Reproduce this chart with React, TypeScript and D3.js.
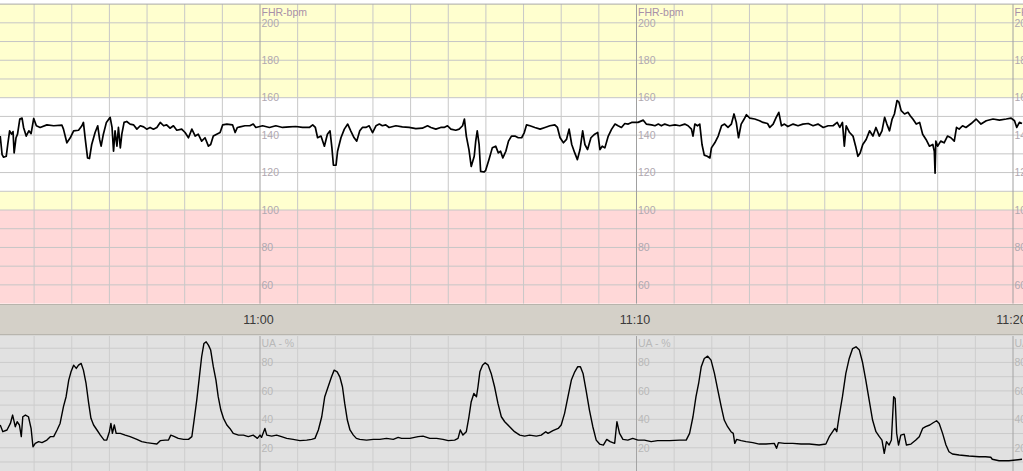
import React from "react";
import * as d3 from "d3";

// Time of each reading in minutes relative to 11:00
const fhrSamples: [number, number][] = [
  [-6.90,139.5],[-6.85,129.6],[-6.81,128.2],[-6.74,128.7],[-6.70,135.0],[-6.65,142.3],[-6.60,140.5],[-6.56,141.9],
  [-6.53,130.5],[-6.48,138.6],[-6.44,140.5],[-6.38,148.6],[-6.32,149.1],[-6.28,144.1],[-6.21,139.5],[-6.14,142.3],
  [-6.08,140.8],[-6.01,148.9],[-5.94,145.0],[-5.84,144.1],[-5.66,145.5],[-5.48,145.0],[-5.26,145.3],[-5.22,143.2],
  [-5.13,135.9],[-5.04,138.6],[-4.95,142.3],[-4.82,142.6],[-4.73,145.0],[-4.69,146.8],[-4.64,137.7],[-4.58,127.8],
  [-4.53,127.5],[-4.47,135.0],[-4.38,141.4],[-4.31,145.0],[-4.26,137.7],[-4.22,134.1],[-4.16,140.5],[-4.08,146.8],
  [-3.98,149.5],[-3.93,144.1],[-3.89,131.4],[-3.85,142.3],[-3.80,134.1],[-3.76,144.1],[-3.71,133.2],[-3.67,140.5],
  [-3.61,146.8],[-3.54,147.3],[-3.45,145.9],[-3.36,145.5],[-3.27,143.2],[-3.18,145.0],[-3.09,144.4],[-3.01,143.2],
  [-2.92,144.1],[-2.83,143.2],[-2.74,144.1],[-2.65,146.8],[-2.56,145.0],[-2.48,145.5],[-2.39,143.7],[-2.30,145.0],
  [-2.21,142.6],[-2.08,143.2],[-1.99,141.4],[-1.90,138.6],[-1.81,143.2],[-1.72,139.5],[-1.64,140.5],[-1.55,136.8],
  [-1.46,138.6],[-1.37,134.1],[-1.31,135.0],[-1.24,139.5],[-1.15,140.5],[-1.06,141.4],[-0.99,145.5],[-0.88,145.9],
  [-0.73,145.5],[-0.66,141.4],[-0.60,144.1],[-0.53,144.4],[-0.40,145.0],[-0.27,145.0],[-0.18,145.9],[-0.11,144.1],
  [0.07,145.0],[0.25,144.1],[0.42,145.0],[0.60,144.1],[0.78,144.4],[0.95,144.6],[1.13,144.1],[1.31,144.1],
  [1.40,145.5],[1.47,144.1],[1.53,138.6],[1.62,139.5],[1.71,134.1],[1.79,140.5],[1.86,142.3],[1.91,133.2],
  [1.95,123.9],[2.02,123.9],[2.06,131.4],[2.15,138.6],[2.24,143.2],[2.33,145.9],[2.41,142.3],[2.50,138.6],
  [2.57,136.8],[2.65,142.3],[2.72,144.1],[2.81,144.1],[2.90,145.0],[2.99,141.4],[3.08,145.0],[3.17,145.9],
  [3.25,145.0],[3.34,145.5],[3.43,144.1],[3.61,145.0],[3.78,144.4],[3.96,144.1],[4.14,143.5],[4.31,143.7],
  [4.45,145.0],[4.54,144.1],[4.67,143.2],[4.80,144.1],[4.89,144.1],[4.98,145.0],[5.07,143.2],[5.20,142.6],
  [5.29,143.2],[5.38,145.0],[5.43,148.6],[5.48,139.5],[5.55,132.3],[5.61,123.3],[5.69,128.7],[5.73,136.8],
  [5.77,142.3],[5.82,135.0],[5.86,120.6],[5.95,120.3],[5.99,121.0],[6.08,126.9],[6.17,133.2],[6.26,134.1],
  [6.33,130.5],[6.39,131.4],[6.45,127.8],[6.53,131.4],[6.60,136.8],[6.68,139.5],
  [6.77,139.5],[6.86,138.6],[6.95,138.6],[7.02,141.4],[7.08,145.5],[7.17,145.0],[7.30,144.1],[7.44,143.2],
  [7.57,144.1],[7.70,145.0],[7.83,145.5],[7.90,144.1],[7.97,138.6],[8.06,135.9],[8.14,137.7],[8.21,143.2],
  [8.28,135.0],[8.36,130.5],[8.43,126.9],[8.50,132.3],[8.57,142.3],[8.63,135.0],[8.70,132.3],[8.79,138.6],
  [8.89,140.5],[8.97,141.4],[9.03,132.3],[9.09,134.1],[9.16,133.2],[9.25,139.5],[9.34,143.2],[9.43,145.9],
  [9.51,145.0],[9.60,144.1],[9.69,146.2],[9.78,145.9],[9.87,146.8],[9.96,146.8],[10.04,146.8],[10.18,148.0],
  [10.26,145.9],[10.40,145.5],[10.49,145.0],[10.58,145.9],[10.66,145.0],[10.75,145.9],[10.88,145.0],[11.02,145.5],
  [11.15,145.0],[11.28,145.9],[11.37,145.0],[11.46,143.2],[11.50,139.5],[11.55,145.9],[11.62,145.0],[11.68,145.9],
  [11.74,135.0],[11.80,129.3],[11.88,128.7],[11.95,127.8],[11.99,133.2],[12.08,135.9],[12.17,139.5],[12.26,145.0],
  [12.34,145.9],[12.43,144.1],[12.52,145.9],[12.59,151.3],[12.65,146.8],[12.71,138.6],[12.78,145.9],[12.86,148.6],
  [12.92,150.9],[13.01,149.1],[13.14,148.6],[13.27,147.7],[13.36,146.8],[13.48,146.2],
  [13.54,144.1],[13.63,145.9],[13.71,149.5],[13.78,152.2],[13.85,145.0],[13.93,145.9],[14.02,144.6],[14.16,145.9],
  [14.29,145.0],[14.42,145.9],[14.56,146.2],[14.69,145.0],[14.82,145.9],[14.96,144.1],[15.09,145.0],[15.22,145.0],
  [15.33,146.8],[15.40,144.1],[15.47,146.8],[15.52,134.1],[15.57,145.0],[15.66,141.4],[15.75,139.5],[15.82,134.1],
  [15.88,128.7],[15.94,130.5],[16.01,135.0],[16.10,137.7],[16.19,142.3],[16.28,139.5],[16.36,144.1],[16.45,139.5],
  [16.52,142.3],[16.59,149.5],[16.65,145.9],[16.72,142.3],[16.79,148.6],[16.85,151.3],[16.92,158.5],[16.97,157.6],
  [17.03,153.1],[17.12,151.3],[17.21,152.2],[17.27,150.4],[17.34,148.6],[17.43,145.9],[17.52,146.8],[17.60,140.5],
  [17.69,137.7],[17.78,134.1],[17.87,135.0],[17.91,131.4],[17.93,119.7],[17.95,136.8],[18.00,134.1],[18.08,136.8],
  [18.17,135.9],[18.26,139.5],[18.35,138.6],[18.44,136.8],[18.50,144.1],[18.57,143.2],[18.66,145.0],[18.75,144.1],
  [18.89,146.2],[19.02,148.6],[19.15,145.9],[19.29,147.7],[19.47,148.6],[19.64,148.0],[19.82,148.6],[19.95,149.1],
  [20.04,147.7],[20.10,144.1],[20.17,146.8],[20.24,146.2],
];

const uaSamples: [number, number][] = [
  [-6.90,36.0],[-6.83,31.3],[-6.72,32.5],[-6.63,37.1],[-6.57,43.0],[-6.50,34.8],[-6.45,38.3],[-6.39,36.0],
  [-6.34,27.8],[-6.30,41.8],[-6.23,43.0],[-6.15,41.8],[-6.08,33.6],[-6.03,20.7],[-5.97,23.1],[-5.88,24.3],
  [-5.79,23.6],[-5.66,25.4],[-5.57,27.8],[-5.48,27.8],[-5.39,32.5],[-5.31,37.1],[-5.22,48.9],[-5.15,55.9],
  [-5.08,67.6],[-5.02,73.4],[-4.95,78.1],[-4.88,75.8],[-4.82,78.1],[-4.75,79.3],[-4.69,74.6],[-4.62,65.2],
  [-4.55,51.2],[-4.49,40.7],[-4.42,36.0],[-4.33,32.5],[-4.24,28.9],[-4.14,25.4],[-4.07,25.4],[-4.00,31.3],
  [-3.96,37.1],[-3.92,30.1],[-3.87,36.0],[-3.82,30.1],[-3.71,30.1],[-3.58,28.9],[-3.45,27.8],[-3.27,25.9],
  [-3.14,24.3],[-3.01,23.6],[-2.87,23.1],[-2.74,22.6],[-2.65,25.0],[-2.52,25.4],[-2.43,25.4],[-2.37,28.9],
  [-2.30,28.2],[-2.17,26.6],[-2.03,25.9],[-1.90,25.9],[-1.81,27.8],[-1.75,39.5],[-1.68,53.5],[-1.61,69.9],
  [-1.55,84.0],[-1.49,93.3],[-1.43,94.5],[-1.37,92.2],[-1.31,88.7],[-1.24,77.0],[-1.17,67.6],[-1.11,55.9],
  [-1.04,46.5],[-0.97,40.7],[-0.88,36.0],[-0.80,33.6],[-0.71,30.1],[-0.57,28.9],[-0.44,28.9],[-0.31,27.8],
  [-0.18,28.9],[-0.07,26.6],[0.00,28.9],[0.04,27.3],[0.13,33.6],[0.18,28.9],[0.31,28.2],[0.44,28.9],
  [0.57,27.8],[0.71,26.6],[0.88,25.9],[1.06,25.0],[1.24,25.4],[1.37,25.9],[1.46,26.6],[1.55,32.5],
  [1.64,41.8],[1.72,55.9],[1.81,62.9],[1.90,69.9],[1.97,74.6],[2.05,73.4],[2.12,69.9],
  [2.19,62.9],[2.25,51.2],[2.32,39.5],[2.39,32.5],[2.48,28.9],[2.56,26.6],[2.65,25.9],[2.83,25.4],
  [3.01,25.9],[3.18,25.9],[3.36,26.6],[3.54,25.9],[3.67,27.3],[3.76,26.6],[3.98,26.6],[4.20,27.8],
  [4.33,28.2],[4.51,26.6],[4.69,26.6],[4.86,25.9],[5.00,25.0],[5.17,25.4],[5.26,26.6],[5.32,32.5],
  [5.39,28.9],[5.48,31.3],[5.55,41.8],[5.61,52.4],[5.68,58.2],[5.75,55.9],[5.79,62.9],[5.84,73.4],
  [5.91,78.1],[5.98,79.8],[6.06,78.1],[6.14,72.3],[6.23,62.9],[6.32,51.2],[6.41,41.8],[6.50,38.3],
  [6.63,34.8],[6.76,31.3],[6.90,28.9],[7.03,28.2],[7.16,28.9],[7.34,28.2],[7.47,28.9],[7.59,31.3],
  [7.65,30.1],[7.78,32.0],[7.92,33.6],[8.00,36.0],[8.09,44.2],[8.18,55.9],[8.27,67.6],[8.36,73.4],
  [8.44,77.0],[8.51,77.0],[8.58,72.3],[8.66,60.6],[8.75,46.5],[8.84,34.8],[8.93,25.4],[9.02,22.6],
  [9.12,21.9],[9.21,25.9],[9.30,24.3],[9.42,23.1],[9.48,38.3],[9.55,30.1],[9.64,25.9],[9.77,25.4],
  [9.90,26.6],[10.04,25.4],[10.21,25.4],[10.39,24.3],[10.56,25.0],[10.79,25.0],
  [10.88,25.0],[11.14,25.4],[11.32,25.4],[11.41,30.1],[11.50,41.8],[11.58,55.9],[11.65,65.2],[11.72,77.0],
  [11.80,82.8],[11.89,84.4],[11.98,81.6],[12.07,72.3],[12.16,60.6],[12.25,48.9],[12.33,39.5],[12.42,34.8],
  [12.51,31.3],[12.57,30.1],[12.61,23.1],[12.66,25.9],[12.78,25.0],[12.91,24.3],[13.09,23.6],[13.26,22.6],
  [13.44,22.6],[13.66,23.1],[13.72,19.6],[13.77,23.6],[13.93,23.1],[14.15,23.1],[14.37,22.6],[14.59,22.6],
  [14.85,21.9],[15.03,22.6],[15.12,27.8],[15.21,31.3],[15.27,33.6],[15.32,31.3],[15.38,41.8],[15.47,55.9],
  [15.56,72.3],[15.65,82.8],[15.74,89.8],[15.83,91.0],[15.92,88.7],[16.00,80.5],[16.09,67.6],[16.18,53.5],
  [16.27,39.5],[16.36,31.3],[16.45,27.8],[16.52,25.4],[16.58,16.1],[16.64,24.3],[16.71,21.9],[16.77,25.4],
  [16.83,55.9],[16.87,54.7],[16.91,30.1],[16.96,21.9],[17.02,28.9],[17.11,29.6],[17.17,21.9],[17.29,22.6],
  [17.42,25.4],[17.51,27.8],[17.60,33.6],[17.68,34.8],[17.79,36.0],[17.88,37.6],[17.97,39.0],[18.04,37.1],
  [18.13,30.1],[18.22,21.9],[18.30,17.2],[18.39,15.6],[18.57,14.9],[18.83,14.2],[19.10,13.7],[19.27,13.7],
  [19.41,13.3],[19.45,11.9],[19.63,10.9],[19.89,10.9],[20.24,11.9],
];

const fhrTickValues = [200, 180, 160, 140, 120, 100, 80, 60];
const uaTickValues = [80, 60, 40, 20];
const fhrTitle = "FHR-bpm";
const uaTitle = "UA - %";
// zones: [from, to, colour]
const fhrZones: [number, number, string][] = [
  [160, 210, "#ffffcf"],
  [110, 160, "#ffffff"],
  [100, 110, "#ffffcf"],
  [50, 100, "#ffd8d8"],
];

const W = 1023;
const H = 471;
const BASE = new Date(2000, 0, 1, 11, 0, 0).getTime();
const at = (m: number) => new Date(BASE + m * 60000);

export default function App() {
  const x = d3.scaleTime().domain([at(0), at(20)]).range([260, 1013]);
  const yF = d3.scaleLinear().domain([50, 210]).range([303.6, 4.1]);
  const yU = d3.scaleLinear().domain([0, 100]).range([476.2, 334]);
  const bandTop = 304;
  const bandBottom = 335;

  const minutes = d3.timeMinute.range(x.invert(0) as Date, x.invert(W) as Date);
  const isMajor = (d: Date) => d.getMinutes() % 10 === 0;
  const majors = minutes.filter(isMajor);
  const fmt = d3.timeFormat("%H:%M");

  const fhrLine = d3
    .line<[number, number]>()
    .x((d) => x(at(d[0])))
    .y((d) => yF(d[1]));
  const uaLine = d3
    .line<[number, number]>()
    .x((d) => x(at(d[0])))
    .y((d) => yU(d[1]));

  const font = "Arial, 'Liberation Sans', sans-serif";

  return (
    <svg
      width={W}
      height={H}
      style={{ position: "absolute", left: 0, top: 0, display: "block", background: "#fff" }}
    >
      <defs>
        <clipPath id="fhrClip">
          <rect x={0} y={yF(210)} width={W} height={yF(50) - yF(210)} />
        </clipPath>
        <clipPath id="uaClip">
          <rect x={0} y={bandBottom} width={W} height={H - bandBottom} />
        </clipPath>
      </defs>

      {/* FHR zones */}
      {fhrZones.map(([a, b, c], i) => (
        <rect key={i} x={0} y={yF(b)} width={W} height={yF(a) - yF(b)} fill={c} />
      ))}
      {/* FHR horizontal grid */}
      {d3.range(60, 210, 10).map((v) => (
        <line key={v} x1={0} x2={W} y1={yF(v)} y2={yF(v)} stroke="#c6c6c6" strokeWidth={1} />
      ))}
      {/* FHR vertical grid */}
      {minutes.map((d, i) => (
        <line
          key={i}
          x1={x(d)}
          x2={x(d)}
          y1={yF(210)}
          y2={yF(50)}
          stroke={isMajor(d) ? "#a0a0a0" : "#c8c8c8"}
          strokeWidth={1}
        />
      ))}
      <line x1={0} x2={W} y1={yF(210)} y2={yF(210)} stroke="#a8a8a8" />
      {/* FHR labels */}
      {majors.map((d, i) => (
        <g key={i} fontFamily={font}>
          <text x={x(d) + 1.5} y={yF(200) - 7} fontSize={10.5} fill="#a890a8">
            {fhrTitle}
          </text>
          {fhrTickValues.map((v) => (
            <text key={v} x={x(d) + 1.5} y={yF(v) + 3.8} fontSize={10.5} fill="#b0a8b0">
              {v}
            </text>
          ))}
        </g>
      ))}
      <path
        d={fhrLine(fhrSamples) || ""}
        fill="none"
        stroke="#000"
        strokeWidth={1.7}
        strokeLinejoin="round"
        clipPath="url(#fhrClip)"
      />

      {/* time band */}
      <rect x={0} y={bandTop} width={W} height={bandBottom - bandTop} fill="#d4d0c8" />
      <line x1={0} x2={W} y1={bandTop + 0.5} y2={bandTop + 0.5} stroke="#b8b4ac" />
      <line x1={0} x2={W} y1={bandBottom} y2={bandBottom} stroke="#9c9a94" />
      {majors.map((d, i) => (
        <text
          key={i}
          x={x(d) - 1.5}
          y={324}
          textAnchor="middle"
          fontFamily={font}
          fontSize={12.5}
          fill="#3a3a3a"
        >
          {fmt(d)}
        </text>
      ))}

      {/* UA panel */}
      <rect x={0} y={bandBottom + 0.5} width={W} height={H - bandBottom} fill="#e1e1e1" />
      {d3.range(10, 100, 10).map((v) => (
        <line key={v} x1={0} x2={W} y1={yU(v)} y2={yU(v)} stroke="#cbcbcb" strokeWidth={1} />
      ))}
      {minutes.map((d, i) => (
        <line
          key={i}
          x1={x(d)}
          x2={x(d)}
          y1={bandBottom + 1}
          y2={H}
          stroke={isMajor(d) ? "#a4a4a4" : "#cdcdcd"}
          strokeWidth={1}
        />
      ))}
      {majors.map((d, i) => (
        <g key={i} fontFamily={font}>
          <text x={x(d) + 1.5} y={yU(90) - 1} fontSize={10.5} fill="#b8b8b8">
            {uaTitle}
          </text>
          {uaTickValues.map((v) => (
            <text key={v} x={x(d) + 1.5} y={yU(v) + 3.8} fontSize={10.5} fill="#b8b8b8">
              {v}
            </text>
          ))}
        </g>
      ))}
      <path
        d={uaLine(uaSamples) || ""}
        fill="none"
        stroke="#000"
        strokeWidth={1.4}
        strokeLinejoin="round"
        clipPath="url(#uaClip)"
      />
    </svg>
  );
}
